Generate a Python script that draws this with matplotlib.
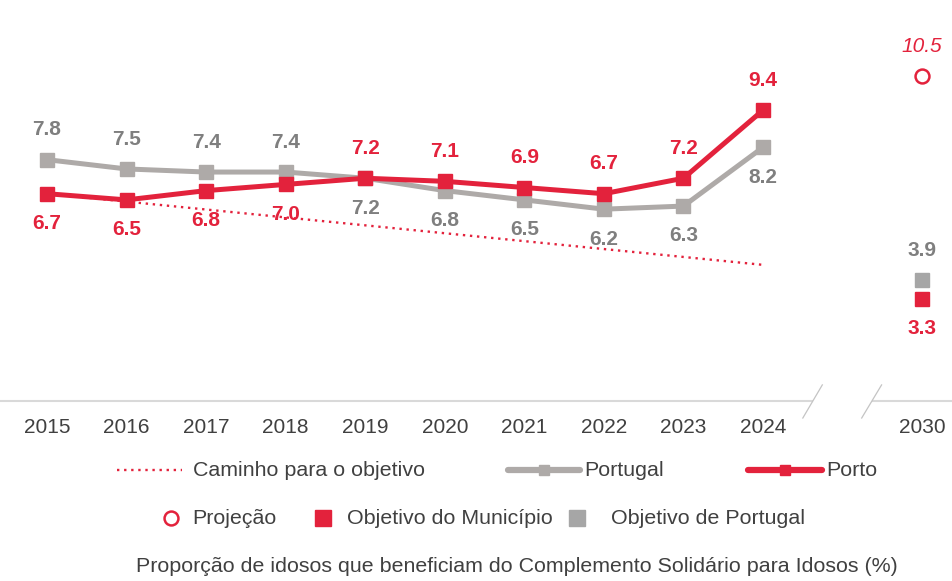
import matplotlib
matplotlib.use('Agg')
import matplotlib.pyplot as plt
from matplotlib.lines import Line2D

# ---------------- data ----------------
years = ['2015', '2016', '2017', '2018', '2019', '2020', '2021', '2022', '2023', '2024']
portugal = [7.8, 7.5, 7.4, 7.4, 7.2, 6.8, 6.5, 6.2, 6.3, 8.2]
porto = [6.7, 6.5, 6.8, 7.0, 7.2, 7.1, 6.9, 6.7, 7.2, 9.4]
caminho_years = ['2015', '2024']
caminho = [6.7, 4.4]
target_year = '2030'
proj_porto_2030 = 10.5
obj_porto_2030 = 3.3
obj_portugal_2030 = 3.9
# label placement: True -> above the point
portugal_above = [True, True, True, True, False, False, False, False, False, False]
porto_above = [False, False, False, False, True, True, True, True, True, True]

legend_row1 = ['Caminho para o objetivo', 'Portugal', 'Porto']
legend_row2 = ['Projeção', 'Objetivo do Município', 'Objetivo de Portugal']
caption = 'Proporção de idosos que beneficiam do Complemento Solidário para Idosos (%)'

# ---------------- style ----------------
RED = '#E3223C'
GREY_LINE = '#AEAAA8'
GREY_SQ = '#A6A6A6'
GREY_TXT = '#7F7F7F'
TXT = '#404040'
AXIS = '#D9D9D9'
plt.rcParams['font.family'] = ['Liberation Sans', 'DejaVu Sans']
FS = 15
FSL = 15.4

W, H = 953, 581
fig = plt.figure(figsize=(W / 100, H / 100), dpi=100)
base_px = 401
scale = 30.94
x0px, dx = 47, 79.56
ax = fig.add_axes([0, 1 - base_px / H, 1, base_px / H])
ax.set_xlim(-x0px / dx, (W - x0px) / dx)
ax.set_ylim(0, base_px / scale)
for s in ax.spines.values():
    s.set_visible(False)
ax.set_yticks([])

xs = list(range(len(years)))
x_target = len(years) + 1
ax.set_xticks(xs + [x_target])
ax.set_xticklabels(years + [target_year], fontsize=FS, color=TXT)
ax.tick_params(axis='x', length=0, pad=12)

# axis line with break
xl = ax.get_xlim()
ax.plot([xl[0], 9.61], [0, 0], color=AXIS, lw=1.5, clip_on=False, zorder=1)
ax.plot([10.38, xl[1]], [0, 0], color=AXIS, lw=1.5, clip_on=False, zorder=1)
ax.plot([9.50, 9.745], [-0.55, 0.52], color='#C4C4C4', lw=0.9, clip_on=False)
ax.plot([10.24, 10.49], [-0.55, 0.52], color='#C4C4C4', lw=0.9, clip_on=False)

# path to objective
cx = [years.index(y) for y in caminho_years]
ax.plot(cx, caminho, color=RED, ls=(0, (1, 2)), lw=1.7, zorder=2)

# series
ax.plot(xs, portugal, color=GREY_LINE, lw=3.6, marker='s', ms=10, zorder=3)
ax.plot(xs, porto, color=RED, lw=3.6, marker='s', ms=10, zorder=4)

OFF = 21.5
for x, v, up in zip(xs, portugal, portugal_above):
    ax.annotate(f'{v:.1f}', (x, v), xytext=(0, OFF if up else -OFF), textcoords='offset points',
                ha='center', va='center', fontsize=FS, fontweight='bold', color=GREY_TXT)
for x, v, up in zip(xs, porto, porto_above):
    ax.annotate(f'{v:.1f}', (x, v), xytext=(0, OFF if up else -OFF), textcoords='offset points',
                ha='center', va='center', fontsize=FS, fontweight='bold', color=RED)

# 2030 targets
ax.plot([x_target], [obj_portugal_2030], 's', color=GREY_SQ, ms=10, zorder=3)
ax.plot([x_target], [obj_porto_2030], 's', color=RED, ms=10, zorder=3)
ax.plot([x_target], [proj_porto_2030], 'o', mfc='white', mec=RED, mew=1.8, ms=10, zorder=3)
ax.annotate(f'{obj_portugal_2030:.1f}', (x_target, obj_portugal_2030), xytext=(0, OFF),
            textcoords='offset points', ha='center', va='center', fontsize=FS,
            fontweight='bold', color=GREY_TXT)
ax.annotate(f'{obj_porto_2030:.1f}', (x_target, obj_porto_2030), xytext=(0, -OFF),
            textcoords='offset points', ha='center', va='center', fontsize=FS,
            fontweight='bold', color=RED)
ax.annotate(f'{proj_porto_2030:.1f}', (x_target, proj_porto_2030), xytext=(0, OFF),
            textcoords='offset points', ha='center', va='center', fontsize=FS,
            fontstyle='italic', color=RED)

# ---------------- legend (manual) ----------------
def fx(px):
    return px / W

def fy(py):
    return 1 - py / H

y1 = fy(470)
fig.add_artist(Line2D([fx(117), fx(182)], [y1, y1], color=RED, ls=(0, (1, 2)), lw=1.7))
fig.text(fx(193), y1, legend_row1[0], fontsize=FSL, color=TXT, va='center', ha='left')
fig.add_artist(Line2D([fx(508), fx(580)], [y1, y1], color=GREY_LINE, lw=4.5, solid_capstyle='round'))
fig.add_artist(Line2D([fx(544)], [y1], color=GREY_LINE, marker='s', ms=7))
fig.text(fx(584), y1, legend_row1[1], fontsize=FSL, color=TXT, va='center', ha='left')
fig.add_artist(Line2D([fx(748), fx(822)], [y1, y1], color=RED, lw=4.5, solid_capstyle='round'))
fig.add_artist(Line2D([fx(785)], [y1], color=RED, marker='s', ms=7))
fig.text(fx(826), y1, legend_row1[2], fontsize=FSL, color=TXT, va='center', ha='left')

y2 = fy(518)
fig.add_artist(Line2D([fx(171)], [y2], marker='o', mfc='white', mec=RED, mew=1.8, ms=10, ls='none'))
fig.text(fx(192), y2, legend_row2[0], fontsize=FSL, color=TXT, va='center', ha='left')
fig.add_artist(Line2D([fx(323)], [y2], marker='s', color=RED, ms=11, ls='none'))
fig.text(fx(347), y2, legend_row2[1], fontsize=FSL, color=TXT, va='center', ha='left')
fig.add_artist(Line2D([fx(577)], [y2], marker='s', color=GREY_SQ, ms=11, ls='none'))
fig.text(fx(611), y2, legend_row2[2], fontsize=FSL, color=TXT, va='center', ha='left')

fig.text(fx(517), fy(566), caption, fontsize=FSL, color=TXT, va='center', ha='center')

fig.savefig('out.png', dpi=100)
